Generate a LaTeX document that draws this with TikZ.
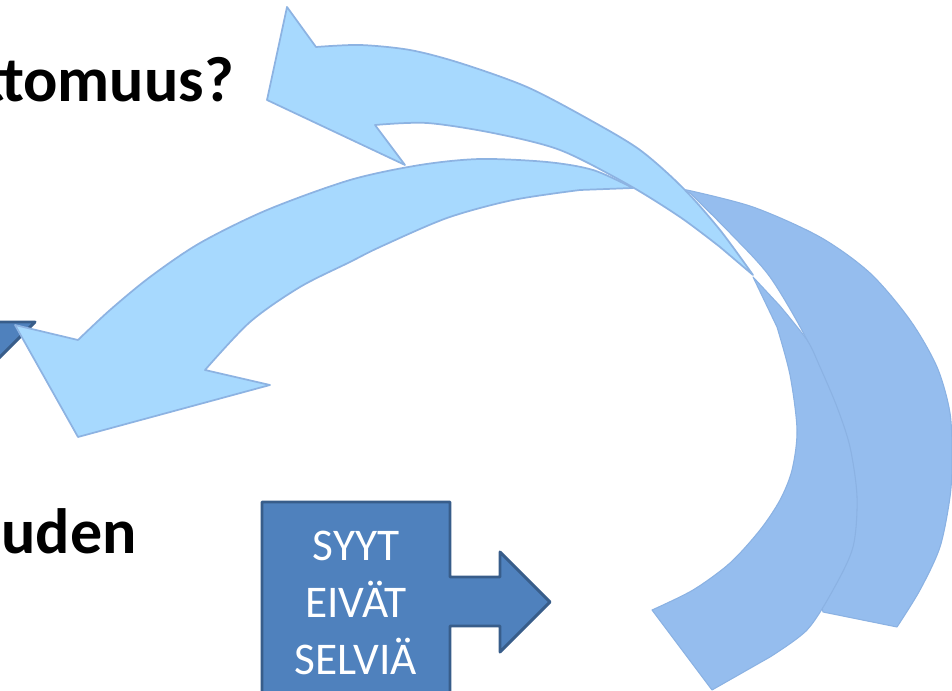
\documentclass[tikz,border=0pt]{standalone}
\usepackage{fontspec}
\setmainfont{Carlito}
\definecolor{arlight}{HTML}{A7D9FE}
\definecolor{aredge}{HTML}{8DB3E2}
\definecolor{arback}{HTML}{95BDEE}
\definecolor{arbackedge}{HTML}{8BB2E3}
\definecolor{bxfill}{HTML}{4F81BD}
\definecolor{bxedge}{HTML}{385D8A}
\tikzset{
  fr/.style  = {fill=arlight, draw=aredge, line width=1.3pt, line join=round},
  bk/.style  = {fill=arback, draw=arbackedge, line width=0.8pt, line join=round},
  blk/.style = {fill=bxfill, draw=bxedge, line width=2.2pt, line join=round},
  big/.style = {font=\fontsize{48}{58}\selectfont\bfseries, inner sep=0pt},
  lbl/.style = {font=\fontsize{34}{43}\selectfont, text=white, align=center, inner sep=0pt},
}
\begin{document}
\begin{tikzpicture}[x=0.75pt,y=-0.75pt]
  \useasboundingbox (0,0) rectangle (952,691);
  \clip (0,0) rectangle (952,691);
  \node[big, anchor=base east] (tt) at (234,102) {ttomuus?};
  \node[big, anchor=base east] (uu) at (137,553) {uuden};
  \draw[blk] (-30,322) -- (35,322) -- (-30,387) -- cycle;
  \draw[bk] (660,189) -- plot[smooth] coordinates {(687,190) (753,207) (820,237) (870,273) (910,320) (937,367) (950,413) (952,460) (950,497) (940,547) (920,590) (897,627)}
    -- (823,612) -- plot[smooth] coordinates {(820,600) (835,560) (842,500) (835,430) (815,370) (807,340) (770,277) (730,233) (690,193)} -- cycle;
  \draw[bk] (753,277) -- plot[smooth] coordinates {(777,327) (790,375) (797,430) (792,470) (780,500) (760,530) (730,563) (693,590) (652,610)}
    -- (712,690) -- plot[smooth] coordinates {(770,657) (807,630) (833,590) (853,547) (857,497) (850,447) (837,407) (820,367) (807,340) (780,306)} -- cycle;
  \draw[fr] (15,325) -- plot[smooth] coordinates {(78,340) (110,310) (150,277) (200,243) (267,210) (350,180) (420,165) (480,159) (547,162) (593,170) (633,188)}
    -- plot[smooth] coordinates {(580,190) (513,200) (447,218) (380,247) (350,262) (300,287) (250,322) (205,370)} -- (270,385) -- (78,437) -- cycle;
  \draw[fr] (267,100) -- (287,7) -- plot[smooth] coordinates {(316,47) (360,45) (410,50) (460,63) (527,87) (590,120) (640,150) (683,188) (720,230) (753,275)}
    -- plot[smooth] coordinates {(720,247) (680,217) (627,184) (560,150) (493,133) (427,123) (375,125)} -- (405,165) -- cycle;
  \draw[blk] (262,720) -- (262,502) -- (450,502) -- (450,577) -- (500,577) -- (500,552) -- (550,602) -- (500,652) -- (500,626) -- (450,626) -- (450,720) -- cycle;
  \node[lbl] (syyt) at (356,603) {SYYT\\EIVÄT\\SELVIÄ};
\end{tikzpicture}
\end{document}
